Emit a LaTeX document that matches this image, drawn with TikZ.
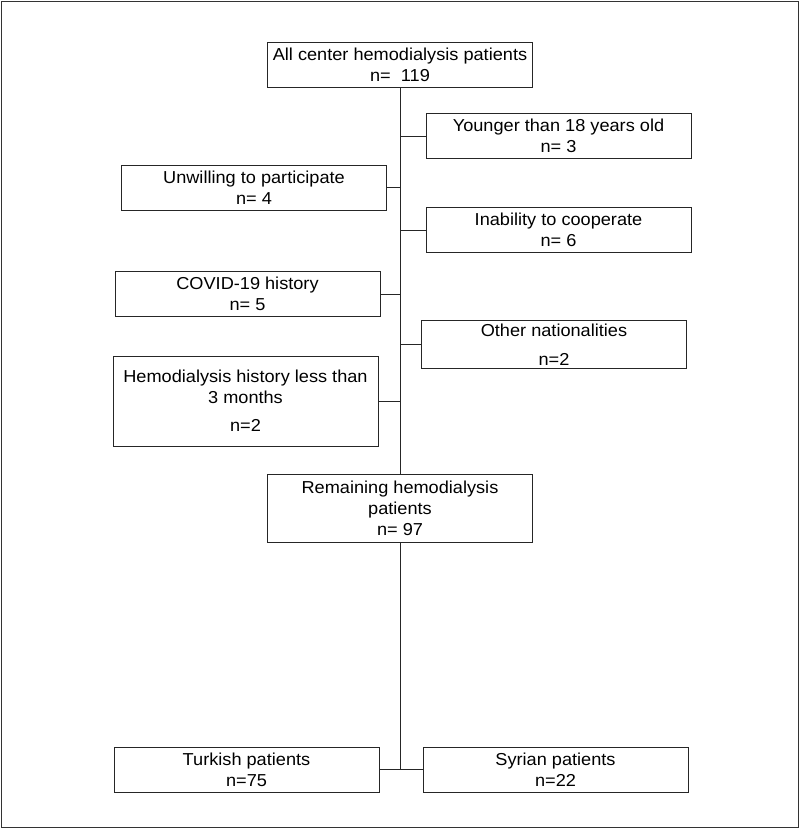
\documentclass[tikz,border=0pt]{standalone}
\usepackage{fontspec}
\setmainfont[FakeStretch=1.05]{Liberation Sans}
\usetikzlibrary{positioning}

\begin{document}
\begin{tikzpicture}[
    x=0.025cm, y=-0.025cm,
    box/.style={rectangle, draw=black!85, line width=0.6pt, fill=white, align=center, minimum width=6.62cm, minimum height=1.125cm, inner sep=2pt, font=\fontsize{12.3}{14.8}\selectfont},
    link/.style={draw=black!85, line width=0.6pt}
]

\useasboundingbox (0,0) rectangle (800,829);
\draw[line width=1.2pt, black!80] (1.5,1.5) rectangle (798.5,827.5);

% ================= MAIN COLUMN =================
\node[box] (all) at (400,64.5) {All center hemodialysis patients\\n=~~119};
\node[box, minimum height=1.7cm] (remain) at (400,508) {Remaining hemodialysis\\patients\\n=~97};
\coordinate (split) at (400,770);

\draw[link] (all.south) -- (remain.north);
\draw[link] (remain.south) -- (split);

% ================= EXCLUSIONS =================
\node[box] (young) at (558.5,136) {Younger than 18 years old\\n=~3};
\node[box] (unwill) at (254,187.5) {Unwilling to participate\\n=~4};
\node[box] (inab) at (558.5,230) {Inability to cooperate\\n=~6};
\node[box] (covid) at (247.5,294) {COVID-19 history\\n=~5};
\node[box] (other) at (554,344.5) {Other nationalities\\[6pt]n=2};
\node[box, minimum height=2.25cm] (hdhist) at (245.5,401) {Hemodialysis history less than\\3 months\\[5pt]n=2};

\draw[link] (young.west) -- (young.west -| all.south);
\draw[link] (unwill.east) -- (unwill.east -| all.south);
\draw[link] (inab.west) -- (inab.west -| all.south);
\draw[link] (covid.east) -- (covid.east -| all.south);
\draw[link] (other.west) -- (other.west -| all.south);
\draw[link] (hdhist.east) -- (hdhist.east -| all.south);

% ================= GROUPS =================
\node[box] (turk) at (246.5,769.5) {Turkish patients\\n=75};
\node[box] (syr) at (555.5,769.5) {Syrian patients\\n=22};

\draw[link] (turk.east) -- (syr.west);

\end{tikzpicture}
\end{document}
